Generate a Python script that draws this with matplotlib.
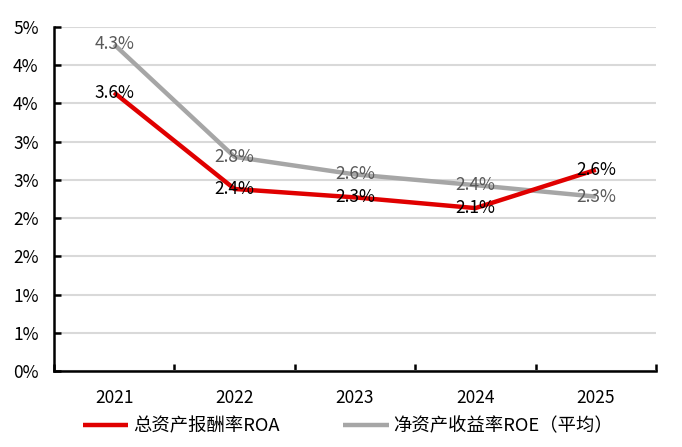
import matplotlib.pyplot as plt
from matplotlib.ticker import FuncFormatter, FixedLocator

plt.rcParams['font.family'] = ['Noto Sans CJK SC', 'DejaVu Sans']

# Data (percent)
years = ["2021", "2022", "2023", "2024", "2025"]
roa = [3.64, 2.38, 2.27, 2.13, 2.63]
roe = [4.27, 2.80, 2.57, 2.43, 2.28]
roa_name = "总资产报酬率ROA"
roe_name = "净资产收益率ROE（平均）"
y_ticks = [0, 0.5, 1.0, 1.5, 2.0, 2.5, 3.0, 3.5, 4.0, 4.5]

red = "#E00000"
gray = "#A6A6A6"

fig = plt.figure(figsize=(6.82, 4.47), dpi=100)
ax = fig.add_axes([0.079, 0.170, 0.883, 0.770])

x = range(len(years))
ax.plot(x, roa, color=red, linewidth=3.2, label=roa_name, zorder=3, solid_capstyle='butt')
ax.plot(x, roe, color=gray, linewidth=3.2, label=roe_name, zorder=2, solid_capstyle='butt')

for i in x:
    ax.text(i, roa[i], f"{roa[i]:.1f}%", ha='center', va='center', fontsize=12.5,
            color="black", zorder=4)
    ax.text(i, roe[i], f"{roe[i]:.1f}%", ha='center', va='center', fontsize=12.5,
            color="#595959", zorder=4)

ax.set_xlim(-0.5, len(years) - 0.5)
ax.set_ylim(0, 4.5)
ax.yaxis.set_major_locator(FixedLocator(y_ticks))
ax.yaxis.set_major_formatter(FuncFormatter(lambda v, p: f"{int(v + 0.5 + 1e-9)}%"))
ax.set_xticks(list(x))
ax.set_xticklabels(years)
ax.set_xticks([i + 0.5 for i in range(-1, len(years))], minor=True)

ax.grid(axis='y', color="#D9D9D9", linewidth=1.5, zorder=0)
ax.set_axisbelow(True)
for s in ['top', 'right']:
    ax.spines[s].set_visible(False)
for s in ['left', 'bottom']:
    ax.spines[s].set_linewidth(1.8)
    ax.spines[s].set_color("black")

ax.tick_params(axis='y', direction='in', length=5, width=1.8, labelsize=12.5, pad=11)
ax.tick_params(axis='x', which='major', length=0, labelsize=12.5, pad=13)
ax.tick_params(axis='x', which='minor', direction='in', length=5, width=1.8)

fig.legend(loc='center', bbox_to_anchor=(0.51, 0.047), ncol=2, frameon=False,
           fontsize=13.2, handlelength=2.5, handletextpad=0.25, columnspacing=3.45)

fig.savefig("out.png", dpi=100)
